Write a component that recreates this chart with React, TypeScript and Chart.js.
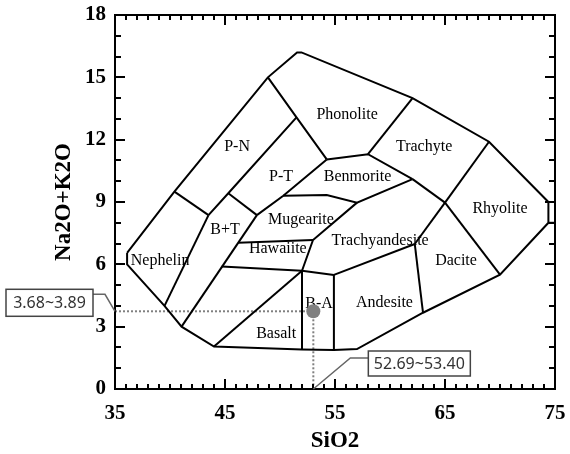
import React, { useEffect, useRef } from "react";
import { Chart, registerables } from "chart.js";

Chart.register(...registerables);

type Pt = [number, number];

// Axis ranges and tick labels
const X_MIN = 35;
const X_MAX = 75;
const Y_MIN = 0;
const Y_MAX = 18;
const xTickValues = [35, 45, 55, 65, 75];
const yTickValues = [0, 3, 6, 9, 12, 15, 18];
const xTitle = "SiO2";
const yTitle = "Na2O+K2O";

// Field boundaries (SiO2, Na2O+K2O)
const outerBoundary: Pt[] = [
  [36.1, 6.55], [40.4, 9.5], [48.9, 15.0], [51.55, 16.2], [51.95, 16.2],
  [62.05, 14.0], [69.0, 11.9], [74.4, 9.0], [74.4, 8.0], [70.0, 5.5],
  [63.0, 3.67], [57.0, 1.92], [54.9, 1.88], [52.0, 1.9], [44.0, 2.04],
  [41.05, 3.0], [39.5, 4.0], [36.1, 6.0], [36.1, 6.55],
];
const nephelinTop: Pt[] = [[40.4, 9.5], [43.5, 8.37]];
const nephelinRight: Pt[] = [[43.5, 8.37], [39.5, 4.0]];
const pnRight: Pt[] = [[43.5, 8.37], [45.3, 9.42], [51.5, 13.07]];
const phonoliteLeft: Pt[] = [[48.9, 15.0], [51.5, 13.07], [54.25, 11.05]];
const btTop: Pt[] = [[45.3, 9.42], [47.9, 8.37]];
const btRight: Pt[] = [[47.9, 8.37], [41.05, 3.0]];
const ptRight: Pt[] = [[47.9, 8.37], [50.3, 9.3], [54.25, 11.05]];
const mugeariteTop: Pt[] = [[50.3, 9.3], [54.25, 9.34], [57.0, 8.97], [62.05, 10.1]];
const benmoriteTop: Pt[] = [[54.25, 11.05], [58.0, 11.3], [62.05, 10.1]];
const phonoliteRight: Pt[] = [[62.05, 14.0], [58.0, 11.3]];
const hawaiiteTop: Pt[] = [[46.2, 7.04], [53.0, 7.17]];
const mugeariteRight: Pt[] = [[57.0, 8.97], [53.0, 7.17], [52.0, 5.69]];
const hawaiiteBottom: Pt[] = [[44.7, 5.89], [52.0, 5.69]];
const basaltTop: Pt[] = [[44.0, 2.04], [52.0, 5.69]];
const baLeft: Pt[] = [[52.0, 5.69], [52.0, 1.9]];
const baTop: Pt[] = [[52.0, 5.69], [54.9, 5.49]];
const baRight: Pt[] = [[54.9, 5.49], [54.9, 1.88]];
const trachyandesiteBottom: Pt[] = [[54.9, 5.49], [62.25, 6.98]];
const andesiteRight: Pt[] = [[62.25, 6.98], [63.0, 3.67]];
const daciteTop: Pt[] = [[62.25, 6.98], [65.0, 8.97]];
const trachyandesiteRight: Pt[] = [[62.05, 10.1], [65.0, 8.97]];
const trachyteRight: Pt[] = [[69.0, 11.9], [65.0, 8.97]];
const daciteRight: Pt[] = [[65.0, 8.97], [70.0, 5.5]];
const rhyoliteBoxTop: Pt[] = [[74.4, 9.0], [75.0, 9.0]];
const rhyoliteBoxBottom: Pt[] = [[74.4, 8.0], [75.0, 8.0]];

// Field names
const regionNames = [
  "Phonolite", "P-N", "Trachyte", "P-T", "Benmorite", "Rhyolite", "Mugearite",
  "B+T", "Trachyandesite", "Hawaiite", "Nephelin", "Dacite", "B-A", "Andesite", "Basalt",
];
const regionSiO2 = [56.1, 46.1, 63.1, 50.1, 57.05, 70.0, 51.9, 45.0, 59.1, 49.8, 39.1, 66.0, 53.55, 59.5, 49.65];
const regionAlkali = [13.2, 11.65, 11.65, 10.2, 10.2, 8.65, 8.15, 7.65, 7.15, 6.75, 6.15, 6.15, 4.1, 4.15, 2.65];

// Sample
const sampleSiO2 = [53.03];
const sampleAlkali = [3.74];
const sampleSiO2Range = "52.69~53.40";
const sampleAlkaliRange = "3.68~3.89";

const SERIF = '"Liberation Serif", "Times New Roman", serif';

export default function App() {
  const ref = useRef<HTMLCanvasElement>(null);

  useEffect(() => {
    if (!ref.current) return;
    const boundaries: Pt[][] = [
      outerBoundary, nephelinTop, nephelinRight, pnRight, phonoliteLeft, btTop, btRight,
      ptRight, mugeariteTop, benmoriteTop, phonoliteRight, hawaiiteTop, mugeariteRight,
      hawaiiteBottom, basaltTop, baLeft, baTop, baRight, trachyandesiteBottom, andesiteRight,
      daciteTop, trachyandesiteRight, trachyteRight, daciteRight, rhyoliteBoxTop, rhyoliteBoxBottom,
    ];
    const toXY = (pts: Pt[]) => pts.map(([x, y]) => ({ x, y }));

    const datasets: any[] = boundaries.map((b) => ({
      data: toXY(b),
      showLine: true,
      borderColor: "#000",
      borderWidth: 2,
      pointRadius: 0,
      fill: false,
      tension: 0,
    }));
    datasets.push({
      data: [{ x: X_MIN, y: sampleAlkali[0] }, { x: sampleSiO2[0], y: sampleAlkali[0] }],
      showLine: true,
      borderColor: "#808080",
      borderWidth: 2,
      borderDash: [2, 2],
      pointRadius: 0,
    });
    datasets.push({
      data: [{ x: sampleSiO2[0], y: sampleAlkali[0] }, { x: sampleSiO2[0], y: Y_MIN }],
      showLine: true,
      borderColor: "#808080",
      borderWidth: 2,
      borderDash: [2, 2],
      pointRadius: 0,
    });
    datasets.push({
      data: sampleSiO2.map((x, i) => ({ x, y: sampleAlkali[i] })),
      showLine: false,
      pointRadius: 7,
      pointBackgroundColor: "#808080",
      pointBorderWidth: 0,
      borderWidth: 0,
    });

    const labelsPlugin = {
      id: "regionLabels",
      beforeDatasetsDraw(chart: any) {
        const { ctx, scales } = chart;
        ctx.save();
        ctx.fillStyle = "#000";
        ctx.font = `16px ${SERIF}`;
        ctx.textAlign = "center";
        ctx.textBaseline = "middle";
        regionNames.forEach((n, i) => {
          ctx.fillText(n, scales.x.getPixelForValue(regionSiO2[i]), scales.y.getPixelForValue(regionAlkali[i]));
        });
        ctx.restore();
      },
    };

    const framePlugin = {
      id: "frameTicks",
      afterDraw(chart: any) {
        const { ctx, chartArea: a, scales } = chart;
        const sx = scales.x;
        const sy = scales.y;
        ctx.save();
        ctx.strokeStyle = "#000";
        ctx.lineWidth = 2;
        ctx.strokeRect(a.left, a.top, a.right - a.left, a.bottom - a.top);
        ctx.lineWidth = 2;
        ctx.beginPath();
        for (let v = X_MIN; v <= X_MAX; v += 1) {
          const px = Math.round(sx.getPixelForValue(v));
          const len = xTickValues.includes(v) ? 10 : 5;
          ctx.moveTo(px, a.bottom);
          ctx.lineTo(px, a.bottom - len);
          ctx.moveTo(px, a.top);
          ctx.lineTo(px, a.top + len);
        }
        for (let v = Y_MIN; v <= Y_MAX; v += 1) {
          const py = Math.round(sy.getPixelForValue(v));
          const len = yTickValues.includes(v) ? 10 : 6;
          ctx.moveTo(a.left, py);
          ctx.lineTo(a.left + len, py);
          ctx.moveTo(a.right, py);
          ctx.lineTo(a.right - len, py);
        }
        ctx.stroke();

        // axis titles
        ctx.fillStyle = "#000";
        ctx.font = `bold 23px ${SERIF}`;
        ctx.textAlign = "center";
        ctx.textBaseline = "middle";
        ctx.fillText(xTitle, (a.left + a.right) / 2, a.bottom + 52);
        ctx.save();
        ctx.translate(a.left - 51, (a.top + a.bottom) / 2);
        ctx.rotate(-Math.PI / 2);
        ctx.fillText(yTitle, 0, 0);
        ctx.restore();

        // callouts
        const drawCallout = (text: string, bx: number, by: number, bw: number, bh: number, leader: number[][]) => {
          ctx.strokeStyle = "#666";
          ctx.lineWidth = 1.5;
          ctx.beginPath();
          leader.forEach(([lx, ly], i) => (i ? ctx.lineTo(lx, ly) : ctx.moveTo(lx, ly)));
          ctx.stroke();
          ctx.fillStyle = "#fff";
          ctx.fillRect(bx, by, bw, bh);
          ctx.strokeStyle = "#444";
          ctx.lineWidth = 1.5;
          ctx.strokeRect(bx, by, bw, bh);
          ctx.fillStyle = "#333";
          ctx.font = '16px "Noto Sans", "DejaVu Sans", sans-serif';
          ctx.textAlign = "center";
          ctx.textBaseline = "middle";
          ctx.fillText(text, bx + bw / 2, by + bh / 2 + 1);
        };
        const ax = sx.getPixelForValue(X_MIN);
        const ly = sy.getPixelForValue(sampleAlkali[0]);
        drawCallout(sampleAlkaliRange, ax - 109, ly - 22, 87, 27, [
          [ax - 22, ly - 17], [ax - 10, ly - 17], [ax, ly],
        ]);
        const px = sx.getPixelForValue(sampleSiO2[0]);
        const by0 = sy.getPixelForValue(Y_MIN);
        drawCallout(sampleSiO2Range, px + 55, by0 - 38, 102, 25, [
          [px, by0], [px + 37, by0 - 31], [px + 55, by0 - 31],
        ]);
        ctx.restore();
      },
    };

    const tickFont = { family: SERIF, size: 21, weight: "bold" as const };
    const chart = new Chart(ref.current, {
      type: "scatter",
      data: { datasets },
      options: {
        responsive: false,
        animation: false,
        devicePixelRatio: 1,
        layout: { padding: { left: 0, right: 15, top: 15, bottom: 0 } },
        plugins: { legend: { display: false }, tooltip: { enabled: false } },
        scales: {
          x: {
            type: "linear",
            min: X_MIN,
            max: X_MAX,
            afterBuildTicks: (s: any) => {
              s.ticks = xTickValues.map((v) => ({ value: v }));
            },
            afterFit: (s: any) => {
              s.height = 65;
              s.paddingLeft = 0;
              s.paddingRight = 0;
            },
            grid: { display: false, drawTicks: false },
            border: { display: false },
            ticks: { color: "#000", font: tickFont, padding: 12, maxRotation: 0, autoSkip: false },
          },
          y: {
            type: "linear",
            min: Y_MIN,
            max: Y_MAX,
            afterBuildTicks: (s: any) => {
              s.ticks = yTickValues.map((v) => ({ value: v }));
            },
            afterFit: (s: any) => {
              s.width = 115;
              s.paddingTop = 0;
              s.paddingBottom = 0;
            },
            grid: { display: false, drawTicks: false },
            border: { display: false },
            ticks: { color: "#000", font: tickFont, padding: 9, autoSkip: false },
          },
        },
      } as any,
      plugins: [labelsPlugin, framePlugin],
    });
    return () => chart.destroy();
  }, []);

  return (
    <div style={{ position: "absolute", left: 0, top: 0, width: 570, height: 454, background: "#fff" }}>
      <canvas ref={ref} width={570} height={454} style={{ display: "block", width: 570, height: 454 }} />
    </div>
  );
}
